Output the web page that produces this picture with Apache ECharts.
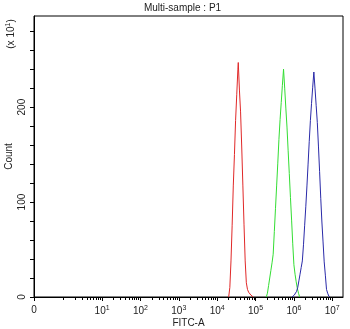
<!DOCTYPE html>
<html>
<head>
<meta charset="utf-8">
<script src="https://cdn.jsdelivr.net/npm/echarts@6/dist/echarts.min.js"></script>
<style>
  html, body { margin: 0; padding: 0; background: #fff; }
  #chart { width: 350px; height: 329px; }
</style>
</head>
<body>
<div id="chart"></div>
<script>
// Histogram bins on a log10(FITC-A) scale (decades) and event counts per bin.
const redBins = [4.30, 4.33, 4.36, 4.39, 4.42, 4.45, 4.48, 4.51, 4.54, 4.55, 4.58, 4.61, 4.64, 4.67, 4.70, 4.73, 4.76, 4.79, 4.82, 4.85, 4.88, 4.91, 4.94];
const redCounts = [0, 10, 38, 75, 117, 150, 186, 213, 240, 247, 218, 195, 158, 117, 76, 38, 15, 8, 5, 3, 2, 1, 0];

const greenBins = [5.28, 5.31, 5.34, 5.37, 5.40, 5.43, 5.46, 5.49, 5.52, 5.55, 5.58, 5.61, 5.64, 5.67, 5.70, 5.73, 5.76, 5.79, 5.82, 5.85, 5.88, 5.91, 5.94, 5.97, 6.00, 6.03, 6.06, 6.09, 6.12, 6.15];
const greenCounts = [0, 4, 12, 20, 28, 36, 45, 69, 93, 117, 141, 166, 187, 205, 223, 240, 220, 199, 179, 154, 130, 105, 81, 56, 34, 24, 16, 9, 4, 0];

const blueBins = [5.95, 5.98, 6.01, 6.04, 6.07, 6.10, 6.13, 6.16, 6.19, 6.22, 6.25, 6.28, 6.31, 6.34, 6.37, 6.40, 6.43, 6.46, 6.49, 6.52, 6.55, 6.58, 6.61, 6.64, 6.67, 6.70, 6.73, 6.76, 6.79, 6.82, 6.85, 6.88, 6.91, 6.94];
const blueCounts = [0, 1, 2, 4, 6, 10, 17, 24, 31, 38, 55, 75, 95, 117, 140, 164, 186, 204, 221, 237, 220, 202, 184, 159, 132, 104, 79, 58, 37, 23, 8, 4, 1, 0];

// Axis layout: "0" sits to the left of the first decade on the display scale.
const zeroPos = -0.775;
const xMax = 7.28;
const decadeLabels = [1, 2, 3, 4, 5, 6, 7];
const yTicks = [0, 20, 40, 60, 80, 100, 120, 140, 160, 180, 200, 220, 240, 260, 280];
const yLabels = [0, 100, 200];

const majorTicks = [zeroPos].concat(decadeLabels);
const minorTicks = [];
for (let k = 0; k < 7; k++) {
  for (let m = 1; m <= 9; m++) {
    if (k === 0 || m > 1) minorTicks.push(k + Math.log10(m));
  }
}

function pairs(xs, ys) { return xs.map((x, i) => [x, ys[i]]); }

const textColor = '#222';
const font = 'Liberation Sans, Arial, sans-serif';

const chart = echarts.init(document.getElementById('chart'), null, { renderer: 'canvas' });
chart.setOption({
  animation: false,
  backgroundColor: '#fff',
  grid: {
    left: 34, right: 7, top: 16, bottom: 32,
    show: true, borderColor: '#000', borderWidth: 1,
    containLabel: false, outerBoundsMode: 'none'
  },
  graphic: [
    {
      type: 'text', x: 182.5, y: 8,
      style: { text: 'Multi-sample : P1', font: '10px ' + font, fill: textColor, textAlign: 'center', textVerticalAlign: 'middle' }
    },
    {
      type: 'text', x: 11, y: 34, rotation: Math.PI / 2,
      style: {
        text: '(x 10{s|1})', font: '10px ' + font, fill: textColor,
        textAlign: 'center', textVerticalAlign: 'middle',
        rich: { s: { fontSize: 7, verticalAlign: 'top', padding: [0, 0, 5, 0], fill: textColor } }
      }
    }
  ],
  xAxis: [
    {
      type: 'value', min: zeroPos, max: xMax,
      name: 'FITC-A', nameLocation: 'middle', nameGap: 21, nameMoveOverlap: false,
      nameTextStyle: { fontSize: 10, color: textColor, fontFamily: font },
      splitLine: { show: false },
      axisLine: { show: true, onZero: false, lineStyle: { color: '#000', width: 1 } },
      axisTick: { show: true, inside: false, length: 4, customValues: majorTicks, lineStyle: { color: '#000' } },
      axisLabel: {
        customValues: majorTicks, margin: 8, color: textColor, fontSize: 10, fontFamily: font,
        formatter: v => (Math.abs(v - zeroPos) < 1e-6 ? '0' : '10{s|' + Math.round(v) + '}'),
        rich: { s: { fontSize: 7, verticalAlign: 'top', padding: [0, 0, 5, 0], color: textColor, fontFamily: font } }
      }
    },
    {
      type: 'value', min: zeroPos, max: xMax, position: 'bottom',
      splitLine: { show: false },
      axisLine: { show: false, onZero: false },
      axisTick: { show: true, inside: false, length: 3, customValues: minorTicks, lineStyle: { color: '#000' } },
      axisLabel: { show: false }
    }
  ],
  yAxis: {
    type: 'value', min: 0, max: 296,
    name: 'Count', nameLocation: 'middle', nameGap: 20, nameRotate: 90, nameMoveOverlap: false,
    nameTextStyle: { fontSize: 10, color: textColor, fontFamily: font },
    splitLine: { show: false },
    axisLine: { show: true, onZero: false, lineStyle: { color: '#000', width: 1 } },
    axisTick: { show: true, inside: false, length: 4, customValues: yTicks, lineStyle: { color: '#000' } },
    axisLabel: { customValues: yLabels, rotate: 90, margin: 7, color: textColor, fontSize: 10, fontFamily: font }
  },
  series: [
    { type: 'line', name: 'red', data: pairs(redBins, redCounts), showSymbol: false, lineStyle: { color: '#e02828', width: 1 }, itemStyle: { color: '#e02828' } },
    { type: 'line', name: 'green', data: pairs(greenBins, greenCounts), showSymbol: false, lineStyle: { color: '#33dd33', width: 1 }, itemStyle: { color: '#33dd33' } },
    { type: 'line', name: 'blue', data: pairs(blueBins, blueCounts), showSymbol: false, lineStyle: { color: '#2a2aa8', width: 1 }, itemStyle: { color: '#2a2aa8' } }
  ]
});
</script>
</body>
</html>
